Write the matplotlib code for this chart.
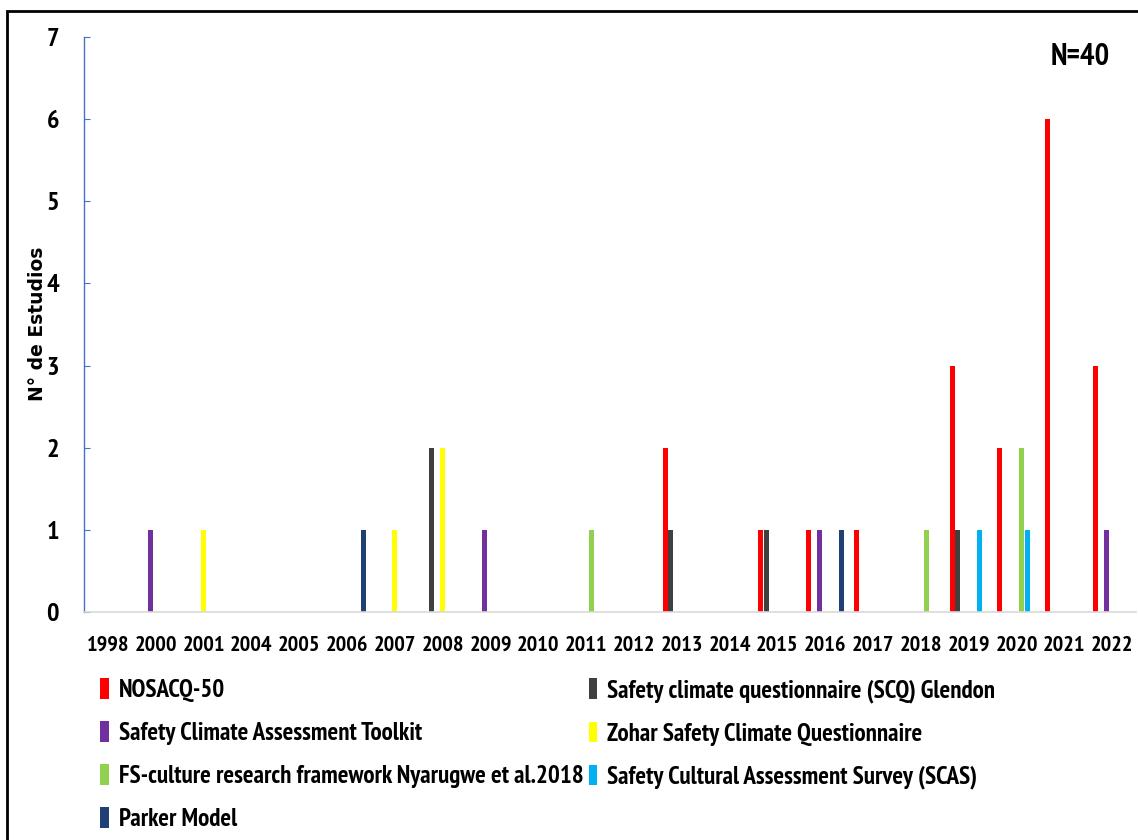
import matplotlib
matplotlib.use("Agg")
import matplotlib.pyplot as plt
from matplotlib.patches import Rectangle
from matplotlib import font_manager as fm
import numpy as np

names = {f.name for f in fm.fontManager.ttflist}
FONT = "DejaVu Sans"
for cand in ["PT Sans Narrow", "Fira Sans Condensed", "Roboto Condensed", "Archivo Narrow",
             "Encode Sans Condensed", "Liberation Sans Narrow"]:
    if cand in names:
        FONT = cand
        break
plt.rcParams['font.family'] = [FONT, 'DejaVu Sans']
plt.rcParams['font.weight'] = 'bold'

years = ["1998", "2000", "2001", "2004", "2005", "2006", "2007", "2008", "2009", "2010", "2011",
         "2012", "2013", "2014", "2015", "2016", "2017", "2018", "2019", "2020", "2021", "2022"]

series_names = ["NOSACQ-50",
                "Safety climate questionnaire (SCQ) Glendon",
                "Safety Climate Assessment Toolkit",
                "Zohar Safety Climate Questionnaire",
                "FS-culture research framework Nyarugwe et al.2018",
                "Safety Cultural Assessment Survey (SCAS)",
                "Parker Model"]
colors = ["#FF0000", "#404040", "#7030A0", "#FFFF00", "#92D050", "#00B0F0", "#203F73"]

#                1998 2000 2001 2004 2005 2006 2007 2008 2009 2010 2011 2012 2013 2014 2015 2016 2017 2018 2019 2020 2021 2022
nosacq       = [0,   0,   0,   0,   0,   0,   0,   0,   0,   0,   0,   0,   2,   0,   1,   1,   1,   0,   3,   2,   6,   3]
scq_glendon  = [0,   0,   0,   0,   0,   0,   0,   2,   0,   0,   0,   0,   1,   0,   1,   0,   0,   0,   1,   0,   0,   0]
scat         = [0,   1,   0,   0,   0,   0,   0,   0,   1,   0,   0,   0,   0,   0,   0,   1,   0,   0,   0,   0,   0,   1]
zohar        = [0,   0,   1,   0,   0,   0,   1,   2,   0,   0,   0,   0,   0,   0,   0,   0,   0,   0,   0,   0,   0,   0]
fs_culture   = [0,   0,   0,   0,   0,   0,   0,   0,   0,   0,   1,   0,   0,   0,   0,   0,   0,   1,   0,   2,   0,   0]
scas         = [0,   0,   0,   0,   0,   0,   0,   0,   0,   0,   0,   0,   0,   0,   0,   0,   0,   0,   1,   1,   0,   0]
parker       = [0,   0,   0,   0,   0,   1,   0,   0,   0,   0,   0,   0,   0,   0,   0,   1,   0,   0,   0,   0,   0,   0]
all_series = [nosacq, scq_glendon, scat, zohar, fs_culture, scas, parker]

W, H = 1138, 840
fig = plt.figure(figsize=(W / 100, H / 100), dpi=100)
ax = fig.add_axes([84 / W, 1 - 612 / H, (1136 - 84) / W, (612 - 37) / H])

x = np.arange(len(years))
slot = 0.115
bw = 0.105
handles = []
for i, (vals, c, nm) in enumerate(zip(all_series, colors, series_names)):
    b = ax.bar(x + (i - 3) * slot, vals, width=bw, color=c, label=nm, linewidth=0)
    handles.append(b)

ax.set_xlim(-0.5, len(years) - 0.5)
ax.set_ylim(0, 7)
ax.set_yticks(range(0, 8))
ax.set_xticks(x)
ax.set_xticklabels(years)
for s in ["top", "right"]:
    ax.spines[s].set_visible(False)
ax.spines["left"].set_color("#4472C4")
ax.spines["left"].set_linewidth(1.0)
ax.spines["bottom"].set_color("#D9D9D9")
ax.spines["bottom"].set_linewidth(1.2)
ax.tick_params(axis="y", direction="in", length=4, color="#4472C4", pad=18, labelsize=19)
ax.tick_params(axis="x", length=0, pad=17, labelsize=16)
for lab in ax.get_xticklabels() + ax.get_yticklabels():
    lab.set_fontweight("bold")

fig.text(38 / W, 1 - 324 / H, "N° de Estudios", rotation=90, ha="center", va="center",
         fontsize=13.5, fontweight="bold", family=["DejaVu Sans"])
fig.text(1080 / W, 1 - 57 / H, "N=40", ha="center", va="center", fontsize=22, fontweight="bold")

order = [0, 2, 4, 6, 1, 3, 5]
leg = fig.legend([handles[i] for i in order], [series_names[i] for i in order], ncol=2,
                 loc="upper left", bbox_to_anchor=(100 / W, 1 - 678 / H), frameon=False,
                 prop={"size": 18, "weight": "bold"}, handlelength=0.35, handleheight=0.9,
                 handletextpad=0.4, columnspacing=0.2, labelspacing=0.76, borderaxespad=0,
                 borderpad=0)

# outer frame
fig.add_artist(Rectangle((6.5 / W, -0.2), 2.0, 1 - 11 / H + 0.2, transform=fig.transFigure,
                         fill=False, edgecolor="black", linewidth=2.0, clip_on=False))

fig.savefig("out.png", dpi=100)
